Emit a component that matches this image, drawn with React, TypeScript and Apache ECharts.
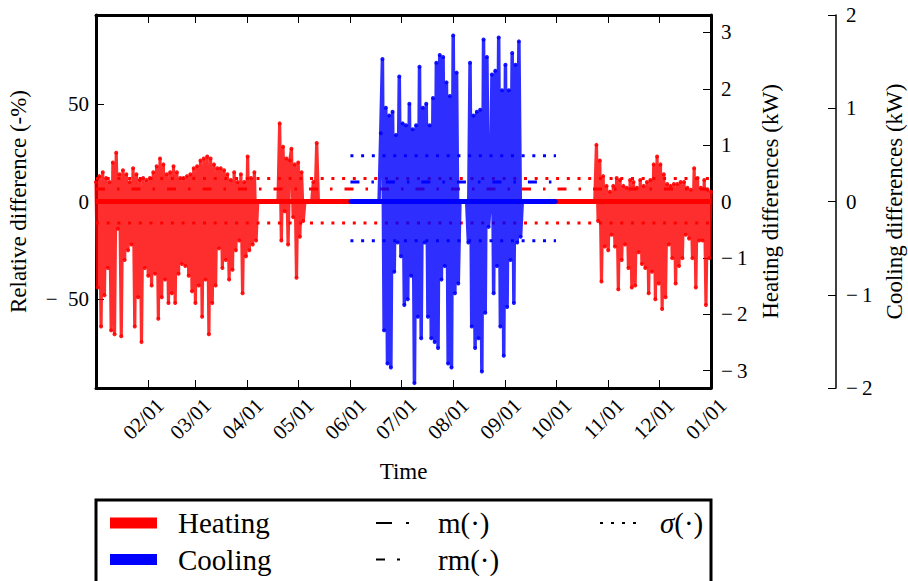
import React, { useEffect, useRef } from 'react';
import * as echarts from 'echarts';

const FONT = '"Liberation Serif", "Times New Roman", serif';

// x axis: day of year, ticks at month starts
const xTickDays = [31, 59, 90, 120, 151, 181, 212, 243, 273, 304, 334, 365];
const xTickLabels = ['02/01', '03/01', '04/01', '05/01', '06/01', '07/01', '08/01', '09/01', '10/01', '11/01', '12/01', '01/01'];
const leftTicks = [-50, 0, 50];
const heatingTicks = [-3, -2, -1, 0, 1, 2, 3];
const coolingTicks = [-2, -1, 0, 1, 2];

// Heating relative difference (%), one value per day (alternating daily high / low)
const heatingWinterStart = 0;
const heatingWinter = [
  10, -44, 13, -64, 15, -48, 12, -34, 10, -66, 20, -68, 25, -14, 14, -69, 16, -30, 14, -25,
  10, -22, 17, -64, 14, -49, 11, -72, 12, -34, 11, -38, 12, -43, 15, -37, 18, -60, 22, -49,
  19, -40, 14, -52, 15, -47, 18, -52, 15, -37, 12, -32, 12, -33, 13, -38, 14, -46, 17, -52,
  18, -43, 21, -59, 22, -40, 23, -68, 22, -52, 19, -43, 17, -24, 17, -34, 16, -30, 14, -40,
  11, -35, 15, -25, 10, -20, 14, -47, 10, -28, 23, -25, 12, -22, 15, -20,
];
const heatingSpringStart = 108;
const heatingSpring = [0, 40, -20, 28, -5, 22, -22, 21, 27, -8, 19, -39, 20, -18, 15, -10, 0, 0, 0, 0, 0, 10, 0, 30, 0];
const heatingAutumnStart = 297;
const heatingAutumn = [
  29, -10, 21, -41, 13, -23, 8, -25, 5, -17, 8, -23, 12, -45, 11, -30, 8, -22, 7, -34,
  11, -44, 10, -43, 7, -26, 11, -32, 8, -34, 10, -47, 11, -36, 19, -50, 23, -42, 19, -55,
  14, -49, 9, -22, 8, -29, 9, -42, 9, -33, 10, -29, 10, -17, 7, -19, 6, -29, 17, -44,
  12, -20, 7, -20, 11, -53, 6, -29, 5,
];
const heatingOffDays = [96, 296]; // heating idle: difference 0

// Cooling relative difference (%)
const coolingSummerStart = 169;
const coolingSummer = [
  35, 73, -66, 48, -83, 44, -85, 46, -36, 34, -21, 64, -28, 40, -53, 39, -50, 50, -38, 37,
  -93, 39, -59, 69, -70, 48, -21, 50, -59, 39, -70, 53, -72, 71, -75, 75, -40, 74, -33, 61,
  -83, 54, -85, 85, -47, 66, -42, 0, 0, 0, 0, 0, -21, 71, -64, 44, -75, 46, -70, 47,
  -87, 83, -57, 74, -13, 0, 65, -47, 67, -33, 84, -64, 57, -79, 70, -54, 57, -30, 76, -52,
  70, -21, 82, -18,
];
const coolingOffDays = [151, 168, 253, 273]; // cooling idle: difference 0
const yearDays = [0, 365];
const coolingSeason = [151, 273];

// statistics (kW)
const heatingSigma = [0.41, -0.38];
const heatingMean = 0.22;
const coolingSigma = [0.49, -0.42];
const coolingMean = 0.21;

const seg = (start: number, vals: number[]) => vals.map((v, i) => [start + i, v]);
const flat = (days: number[], v: number) => days.map((d) => [d, v]);

const heatingData = [
  ...seg(heatingWinterStart, heatingWinter),
  [heatingOffDays[0], 0],
  ...seg(heatingSpringStart, heatingSpring),
  [heatingOffDays[1], 0],
  ...seg(heatingAutumnStart, heatingAutumn),
];
const coolingData = [
  [coolingOffDays[0], 0],
  [coolingOffDays[1], 0],
  ...seg(coolingSummerStart, coolingSummer),
  [coolingOffDays[2], 0],
  [coolingOffDays[3], 0],
];

const minusLeft = (v: number) => (v < 0 ? '\u2212\u2002' + Math.abs(v) : String(v));
const minusRight = (v: number) => (v < 0 ? '\u2212\u2009' + Math.abs(v) : String(v));

const RED = '#ff0000';
const BLUE = '#0000ff';
const DOT = [3, 7.7];
const DASHDOT = [9, 12, 2.5, 12];

function refLine(name: string, axis: number, days: number[], v: number, color: string, type: number[]) {
  return {
    name,
    type: 'line',
    yAxisIndex: axis,
    data: flat(days, v),
    symbol: 'none',
    silent: true,
    lineStyle: { color, width: 3, type },
    z: 1,
  };
}

const axisTextStyle = { fontFamily: FONT, fontSize: 21, color: '#000' };
const legendText = { fontFamily: FONT, fontSize: 29, lineHeight: 30, color: '#000' };

const option: any = {
  animation: false,
  backgroundColor: '#fff',
  grid: { left: 96, top: 15, width: 615, height: 373, containLabel: false, outerBoundsMode: 'none' },
  xAxis: [
    {
      type: 'value',
      position: 'bottom',
      min: 0,
      max: 365,
      name: 'Time',
      nameLocation: 'middle',
      nameGap: 72,
      nameTextStyle: { fontFamily: FONT, fontSize: 23, color: '#000' },
      axisLine: { show: true, onZero: false, lineStyle: { color: '#000', width: 3 } },
      axisTick: { show: true, inside: true, length: 8, customValues: xTickDays, lineStyle: { color: '#000', width: 1 } },
      axisLabel: {
        show: true,
        customValues: xTickDays,
        rotate: 45,
        align: 'right',
        margin: 26,
        padding: [0, -17, 0, 0],
        formatter: (v: number) => xTickLabels[xTickDays.indexOf(v)] ?? '',
        ...axisTextStyle,
      },
      splitLine: { show: false },
    },
    {
      type: 'value',
      position: 'top',
      min: 0,
      max: 365,
      axisLine: { show: true, onZero: false, lineStyle: { color: '#000', width: 3 } },
      axisTick: { show: true, inside: true, length: 8, customValues: xTickDays, lineStyle: { color: '#000', width: 1 } },
      axisLabel: { show: false },
      splitLine: { show: false },
    },
  ],
  yAxis: [
    {
      type: 'value',
      position: 'left',
      min: -95.5,
      max: 95.5,
      name: 'Relative difference (-%)',
      nameLocation: 'middle',
      nameRotate: 90,
      nameGap: 66,
      nameTextStyle: { fontFamily: FONT, fontSize: 23, color: '#000' },
      axisLine: { show: true, onZero: false, lineStyle: { color: '#000', width: 3 } },
      axisTick: { show: true, inside: true, length: 8, customValues: leftTicks, lineStyle: { color: '#000', width: 1 } },
      axisLabel: { show: true, customValues: leftTicks, margin: 7, formatter: minusLeft, ...axisTextStyle },
      splitLine: { show: false },
    },
    {
      type: 'value',
      position: 'right',
      min: -3.31,
      max: 3.31,
      name: 'Heating differences (kW)',
      nameLocation: 'middle',
      nameRotate: 90,
      nameGap: 48,
      nameTextStyle: { fontFamily: FONT, fontSize: 23, color: '#000' },
      axisLine: { show: true, onZero: false, lineStyle: { color: '#000', width: 3 } },
      axisTick: { show: true, inside: true, length: 8, customValues: heatingTicks, lineStyle: { color: '#000', width: 1 } },
      axisLabel: { show: true, customValues: heatingTicks, margin: 10, formatter: minusRight, ...axisTextStyle },
      splitLine: { show: false },
    },
    {
      type: 'value',
      position: 'right',
      offset: 125,
      min: -2,
      max: 2,
      interval: 1,
      name: 'Cooling differences (kW)',
      nameLocation: 'middle',
      nameRotate: 90,
      nameGap: 47,
      nameTextStyle: { fontFamily: FONT, fontSize: 23, color: '#000' },
      axisLine: { show: true, onZero: false, lineStyle: { color: '#000', width: 1.5 } },
      axisTick: { show: true, inside: true, length: 8, customValues: coolingTicks, lineStyle: { color: '#000', width: 1 } },
      axisLabel: { show: true, customValues: coolingTicks, margin: 10, formatter: minusRight, ...axisTextStyle },
      splitLine: { show: false },
    },
  ],
  legend: [
    {
      data: [
        { name: 'Heating', itemStyle: { color: RED, opacity: 1 } },
        { name: 'Cooling', itemStyle: { color: BLUE, opacity: 1 } },
      ],
      orient: 'vertical',
      left: 110,
      top: 508,
      width: 240,
      height: 120,
      icon: 'rect',
      itemWidth: 47,
      itemHeight: 11,
      itemGap: 6.5,
      padding: 0,
      selectedMode: false,
      textStyle: { ...legendText, padding: [0, 0, 0, 16] },
    },
    {
      data: [
        { name: 'm(\u00b7)', itemStyle: { opacity: 0 } },
        { name: 'rm(\u00b7)', itemStyle: { opacity: 0 } },
      ],
      orient: 'vertical',
      left: 375,
      top: 508,
      width: 200,
      height: 120,
      itemWidth: 35,
      itemHeight: 12,
      itemGap: 6.5,
      padding: 0,
      selectedMode: false,
      textStyle: { ...legendText, padding: [0, 0, 0, 22] },
    },
    {
      data: [{ name: '\u03c3(\u00b7)', itemStyle: { opacity: 0 } }],
      orient: 'vertical',
      left: 599,
      top: 508,
      width: 110,
      height: 120,
      itemWidth: 37,
      itemHeight: 12,
      padding: 0,
      selectedMode: false,
      formatter: () => '{it|\u03c3}{n|(\u00b7)}',
      textStyle: {
        ...legendText,
        padding: [0, 0, 0, 18],
        rich: {
          it: { fontFamily: FONT, fontSize: 29, fontStyle: 'italic', color: '#000' },
          n: { fontFamily: FONT, fontSize: 29, color: '#000' },
        },
      },
    },
  ],
  graphic: [
    {
      type: 'rect',
      shape: { x: 96, y: 500, width: 615, height: 120 },
      style: { fill: 'none', stroke: '#000', lineWidth: 3 },
      silent: true,
    },
  ],
  series: [
    refLine('hs+', 1, yearDays, heatingSigma[0], RED, DOT),
    refLine('hs-', 1, yearDays, heatingSigma[1], RED, DOT),
    refLine('hm', 1, yearDays, heatingMean, RED, DASHDOT),
    refLine('cs+', 2, coolingSeason, coolingSigma[0], BLUE, DOT),
    refLine('cs-', 2, coolingSeason, coolingSigma[1], BLUE, DOT),
    refLine('cm', 2, coolingSeason, coolingMean, BLUE, DASHDOT),
    {
      name: 'heatingBase',
      type: 'line',
      data: flat(yearDays, 0),
      symbol: 'none',
      silent: true,
      lineStyle: { color: RED, width: 5 },
      z: 2,
    },
    {
      name: 'Heating',
      type: 'line',
      data: heatingData,
      color: RED,
      symbol: 'circle',
      symbolSize: 4,
      showSymbol: true,
      lineStyle: { color: RED, width: 3.2, opacity: 0.82 },
      itemStyle: { color: RED, opacity: 0.9 },
      z: 3,
    },
    {
      name: 'coolingBase',
      type: 'line',
      data: flat(coolingSeason, 0),
      symbol: 'none',
      silent: true,
      lineStyle: { color: BLUE, width: 5 },
      z: 4,
    },
    {
      name: 'Cooling',
      type: 'line',
      data: coolingData,
      color: BLUE,
      symbol: 'circle',
      symbolSize: 4,
      showSymbol: true,
      lineStyle: { color: BLUE, width: 3.5, opacity: 0.82 },
      itemStyle: { color: BLUE, opacity: 0.9 },
      z: 5,
    },
    {
      name: 'm(\u00b7)',
      type: 'line',
      data: [],
      color: '#000',
      symbol: 'none',
      lineStyle: { color: '#000', width: 3, type: [16, 14, 3, 100] },
    },
    {
      name: 'rm(\u00b7)',
      type: 'line',
      data: [],
      color: '#000',
      symbol: 'none',
      lineStyle: { color: '#000', width: 3, type: [9, 12, 3, 100] },
    },
    {
      name: '\u03c3(\u00b7)',
      type: 'line',
      data: [],
      color: '#000',
      symbol: 'none',
      lineStyle: { color: '#000', width: 3, type: [3, 8] },
    },
  ],
};

export default function App() {
  const ref = useRef<HTMLDivElement>(null);
  useEffect(() => {
    if (!ref.current) return;
    const chart = echarts.init(ref.current, null, { renderer: 'svg' });
    chart.setOption(option);
    return () => chart.dispose();
  }, []);
  return (
    <div
      ref={ref}
      style={{ position: 'fixed', left: 0, top: 0, width: 908, height: 581, background: '#fff' }}
    />
  );
}
